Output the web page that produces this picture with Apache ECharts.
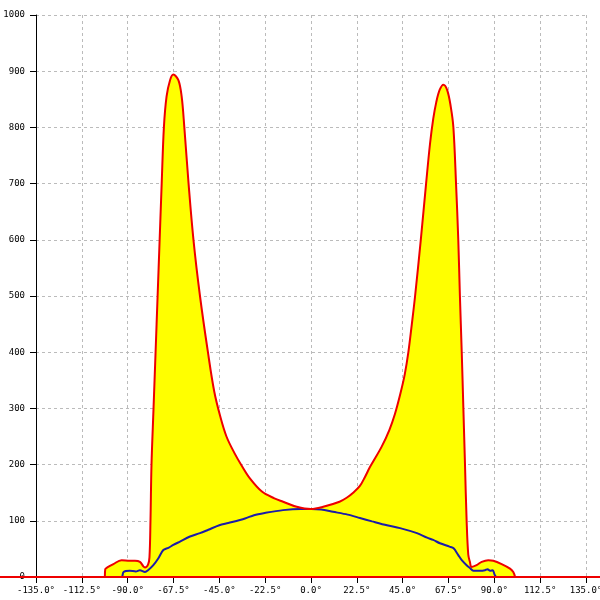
<!DOCTYPE html>
<html>
<head>
<meta charset="utf-8">
<script src="https://cdn.jsdelivr.net/npm/echarts@6/dist/echarts.min.js"></script>
<style>html,body{margin:0;padding:0;background:#fff}#c{width:600px;height:600px}</style>
</head>
<body>
<div id="c"></div>
<script>
// Red envelope (filled yellow)
var redAngles = [-101.2, -101, -100, -97, -93, -89, -86.4, -84, -82.3, -81.5, -80, -79.3, -78.8, -78.3, -77.3, -76.3, -75.3, -74.3, -73.3, -72.2, -70.9, -69.2, -67.6, -65.1, -63.5, -62.2, -60.1, -57.7, -54.5, -50.6, -47.5, -44.5, -41.5, -37.5, -34, -29.9, -24.1, -18, -13.7, -7, 0, 6, 14, 17.5, 20.7, 24, 26.5, 29, 34.7, 38.5, 41.2, 43.8, 46, 47.8, 49.5, 51.1, 53.9, 56.5, 58.4, 60, 61.5, 63.2, 65, 66.9, 68.6, 69.9, 71.2, 72.3, 73.1, 74, 74.8, 75.6, 76.4, 77.2, 78, 78.8, 81.3, 83.8, 87, 89.5, 93.6, 97.7, 99.3, 100.2];
var redValues = [0, 14, 17, 23, 30, 29, 29, 27, 19, 17, 22, 35, 100, 200, 300, 400, 500, 600, 700, 801, 855, 884, 894, 884, 855, 801, 700, 600, 500, 400, 330, 285, 250, 220, 198, 175, 152, 140, 134, 125, 121, 125, 134, 141, 150, 162, 178, 196, 232, 262, 290, 325, 360, 400, 450, 500, 600, 700, 770, 815, 845, 867, 876, 866, 837, 800, 700, 600, 500, 400, 300, 200, 100, 40, 27, 18, 21, 27, 30, 29, 23, 15, 9, 0];
// Blue curve
var blueAngles = [-101, -93, -92, -89, -86, -84, -81.5, -80, -77.4, -75, -72.5, -70, -67.6, -64.3, -59.4, -54.5, -50.4, -45, -40.6, -32.4, -28, -22.6, -13.7, -5, 0, 5, 10.8, 18, 24, 30, 37.3, 43.7, 52, 57, 60, 63.3, 68, 70, 72.3, 74, 76.4, 78, 79.7, 83, 85.4, 86.7, 87.9, 89.2, 90.3, 91.2, 100];
var blueValues = [0, 0, 9, 11, 10, 12, 9, 12, 21, 33, 48, 52, 57, 63, 72, 78, 84, 92, 96, 104, 110, 114, 119, 121, 121, 120, 116, 111, 105, 99, 92, 87, 78, 70, 66, 60, 54, 51, 39, 30, 21, 16, 11, 11, 12, 14, 11, 12, 3, 0, 0];
// Red zero baseline running across the whole picture width
var baseX = [0, 1];
var baseY = [0, 0];

function pairs(a, b) { return a.map(function (x, i) { return [x, b[i]]; }); }
var redData = pairs(redAngles, redValues);
var blueData = pairs(blueAngles, blueValues);
var baseData = pairs(baseX, baseY);

var lbl = { fontFamily: 'DejaVu Sans Mono', fontSize: 9, color: '#000' };
var chart = echarts.init(document.getElementById('c'), null, { renderer: 'canvas' });
chart.setOption({
  animation: false,
  backgroundColor: '#fff',
  grid: [
    { left: 36, right: 14, top: 15, bottom: 23, containLabel: false, outerBoundsMode: 'none' },
    { left: 0, right: 0, top: 15, bottom: 23, containLabel: false, outerBoundsMode: 'none' }
  ],
  xAxis: [{
    type: 'value', min: -135, max: 135, interval: 22.5, gridIndex: 0,
    axisLine: { show: true, onZero: false, lineStyle: { color: '#000', width: 1 } },
    axisTick: { show: true, length: 6, lineStyle: { color: '#000' } },
    axisLabel: Object.assign({ margin: 9, formatter: function (v) { return v.toFixed(1) + '°'; }, showMinLabel: true, showMaxLabel: true, hideOverlap: false }, lbl),
    splitLine: { show: true, lineStyle: { color: '#bbb', type: [3, 3], width: 1 } }
  }, {
    type: 'value', min: 0, max: 1, gridIndex: 1, show: false
  }],
  yAxis: [{
    type: 'value', min: 0, max: 1000, interval: 100, gridIndex: 0,
    axisLine: { show: true, onZero: false, lineStyle: { color: '#000', width: 1 } },
    axisTick: { show: true, length: 6, lineStyle: { color: '#000' } },
    axisLabel: Object.assign({ margin: 11, formatter: function (v) { return String(v); } }, lbl),
    splitLine: { show: true, lineStyle: { color: '#bbb', type: [3, 3], width: 1 } }
  }, {
    type: 'value', min: 0, max: 1000, gridIndex: 1, show: false
  }],
  series: [
    { type: 'line', data: redData, showSymbol: false, smooth: 0.35,
      lineStyle: { width: 0, opacity: 0 }, areaStyle: { color: '#ffff00', opacity: 1 }, z: 2 },
    { type: 'line', data: blueData, showSymbol: false, smooth: 0.3,
      lineStyle: { width: 2, color: '#1c1ca8' }, z: 3 },
    { type: 'line', data: baseData, xAxisIndex: 1, yAxisIndex: 1, showSymbol: false,
      lineStyle: { width: 2, color: '#ee0000' }, z: 4 },
    { type: 'line', data: redData, showSymbol: false, smooth: 0.35,
      lineStyle: { width: 2, color: '#ee0000' }, z: 5 }
  ]
});
</script>
</body>
</html>
